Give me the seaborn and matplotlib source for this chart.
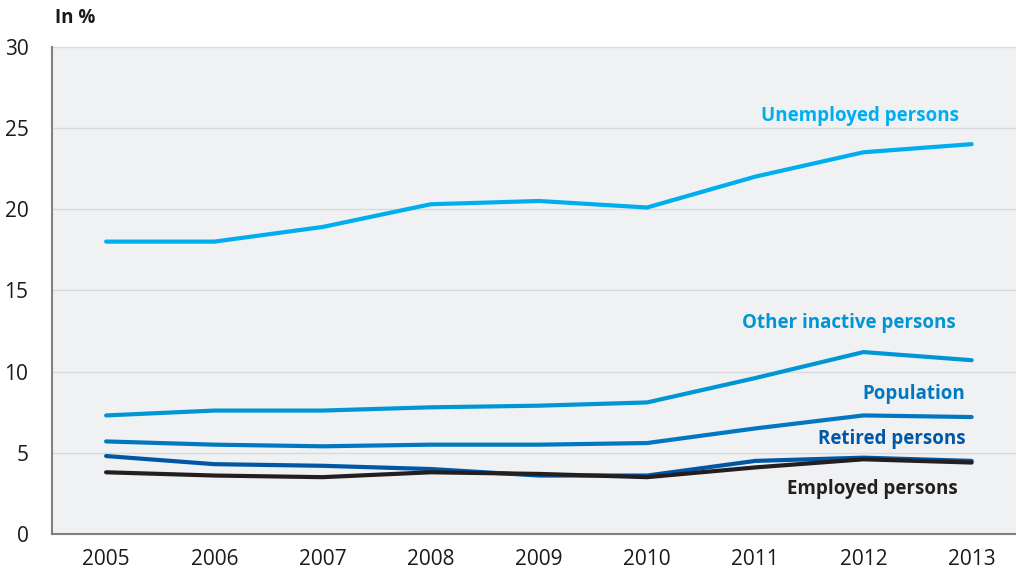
import pandas as pd
import seaborn as sns
import matplotlib.pyplot as plt
from matplotlib.ticker import MultipleLocator, FixedLocator

years = [2005, 2006, 2007, 2008, 2009, 2010, 2011, 2012, 2013]
unemployed = [18.0, 18.0, 18.9, 20.3, 20.5, 20.1, 22.0, 23.5, 24.0]
other_inactive = [7.3, 7.6, 7.6, 7.8, 7.9, 8.1, 9.6, 11.2, 10.7]
population = [5.7, 5.5, 5.4, 5.5, 5.5, 5.6, 6.5, 7.3, 7.2]
retired = [4.8, 4.3, 4.2, 4.0, 3.6, 3.6, 4.5, 4.7, 4.5]
employed = [3.8, 3.6, 3.5, 3.8, 3.7, 3.5, 4.1, 4.6, 4.4]

series_names = ['Unemployed persons', 'Other inactive persons', 'Population',
                'Retired persons', 'Employed persons']
colors = ['#00AEEF', '#0096D6', '#0077C0', '#0057A6', '#231F20']

df = pd.DataFrame({
    'year': years * 5,
    'value': unemployed + other_inactive + population + retired + employed,
    'group': [n for n in series_names for _ in years],
})

sns.set_theme(style='white')
plt.rcParams['font.family'] = ['Open Sans', 'DejaVu Sans']

fig = plt.figure(figsize=(10.16, 5.72), dpi=100)
ax = fig.add_axes([0.0512, 0.0664, 0.9488, 0.852])
ax.set_facecolor('#F0F1F3')

sns.lineplot(data=df, x='year', y='value', hue='group', hue_order=series_names,
             palette=colors, linewidth=3, legend=False, ax=ax)

ax.set_ylim(0, 30)
ax.set_xlim(2004.5, 2013.41)
ax.yaxis.set_major_locator(MultipleLocator(5))
ax.set_xticks(years)
ax.xaxis.set_minor_locator(FixedLocator([y + 0.5 for y in years[:-1]]))
ax.tick_params(axis='x', which='major', length=0, labelsize=15, pad=11, colors='#1a1a1a')
ax.tick_params(axis='x', which='minor', length=9, width=1, color='#888888', direction='out')
ax.tick_params(axis='y', which='major', length=8, width=1, labelsize=15,
               pad=9, direction='out')
ax.tick_params(axis='y', colors='#888888', labelcolor='#1a1a1a')
ax.grid(axis='y', color='#D9DADD', linewidth=1)
ax.set_axisbelow(True)
for s in ['top', 'right']:
    ax.spines[s].set_visible(False)
for s in ['left', 'bottom']:
    ax.spines[s].set_color('#808080')
    ax.spines[s].set_linewidth(1.5)
ax.set_xlabel('')
ax.set_ylabel('')

# line labels
label_pos = [(2012.88, 25.75), (2012.85, 13.0), (2012.94, 8.6), (2012.94, 5.85), (2012.87, 2.8)]
for name, c, (x, y) in zip(series_names, colors, label_pos):
    ax.text(x, y, name, color=c, fontsize=13.5, fontweight='bold', ha='right', va='center')

fig.text(0.054, 0.968, 'In %', fontsize=13.5, fontweight='bold', color='#1a1a1a',
         ha='left', va='center')

fig.savefig('out.png', dpi=100)
